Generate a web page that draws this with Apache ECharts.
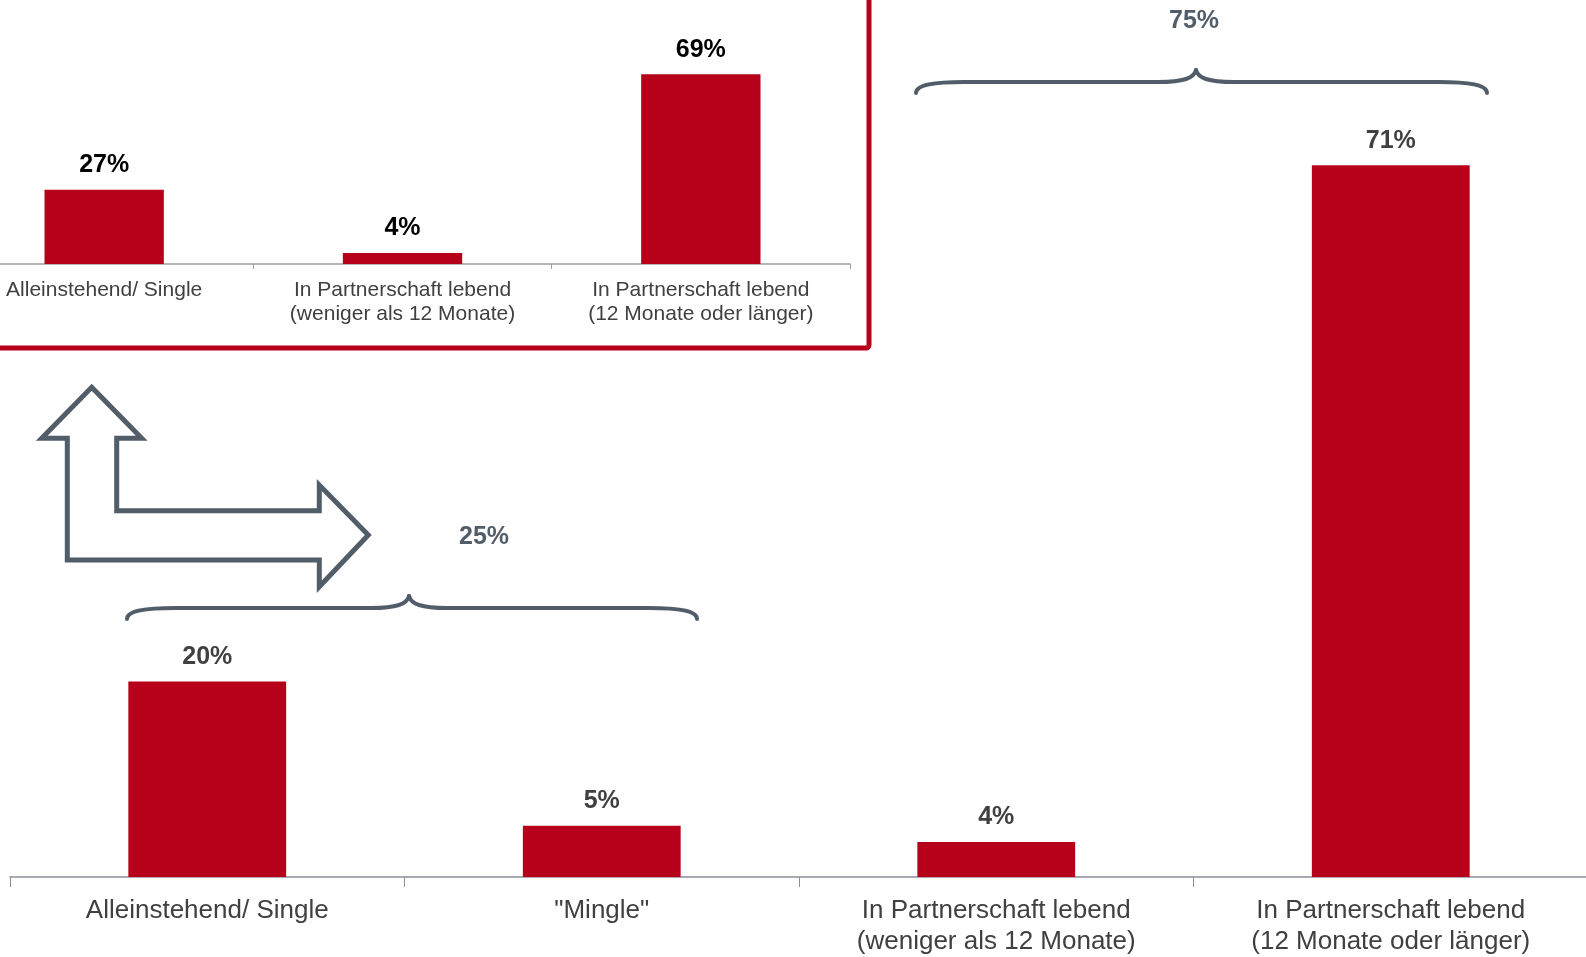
<!DOCTYPE html>
<html>
<head>
<meta charset="utf-8">
<script src="https://cdn.jsdelivr.net/npm/echarts@6/dist/echarts.min.js"></script>
<style>
  html, body { margin: 0; padding: 0; background: #ffffff; }
  #chart { width: 1586px; height: 957px; }
</style>
</head>
<body>
<div id="chart"></div>
<script>
// ---- data ----
const mainCategories = ['Alleinstehend/ Single', '"Mingle"', 'In Partnerschaft lebend\n(weniger als 12 Monate)', 'In Partnerschaft lebend\n(12 Monate oder länger)'];
const mainValues = [19.5, 5.1, 3.5, 71.0];
const insetCategories = ['Alleinstehend/ Single', 'In Partnerschaft lebend\n(weniger als 12 Monate)', 'In Partnerschaft lebend\n(12 Monate oder länger)'];
const insetValues = [27, 4, 69];
const braceLabels = ['25%', '75%'];

const RED = '#B70019';
const SLATE = '#525D6A';
const FONT = '"Liberation Sans", Arial, sans-serif';

function brace(x0, x1, yEnd, yLine, tipX, tipY) {
  const st = { fill: 'none', stroke: SLATE, lineWidth: 4, lineCap: 'round' };
  const seg = (shape, type) => ({ type: type, z: 10, shape: shape, style: st });
  return {
    type: 'group', children: [
      seg({ x1: x0, y1: yEnd, cpx1: x0, cpy1: yLine + 3, cpx2: x0 + 18, cpy2: yLine, x2: x0 + 48, y2: yLine }, 'bezierCurve'),
      seg({ x1: x0 + 48, y1: yLine, x2: tipX - 38, y2: yLine }, 'line'),
      seg({ x1: tipX - 38, y1: yLine, cpx1: tipX - 12, cpy1: yLine, cpx2: tipX - 2, cpy2: yLine - 4, x2: tipX, y2: tipY }, 'bezierCurve'),
      seg({ x1: tipX, y1: tipY, cpx1: tipX + 2, cpy1: yLine - 4, cpx2: tipX + 12, cpy2: yLine, x2: tipX + 38, y2: yLine }, 'bezierCurve'),
      seg({ x1: tipX + 38, y1: yLine, x2: x1 - 48, y2: yLine }, 'line'),
      seg({ x1: x1 - 48, y1: yLine, cpx1: x1 - 18, cpy1: yLine, cpx2: x1, cpy2: yLine + 3, x2: x1, y2: yEnd }, 'bezierCurve')
    ]
  };
}

const chart = echarts.init(document.getElementById('chart'));
chart.setOption({
  animation: false,
  backgroundColor: '#ffffff',
  textStyle: { fontFamily: FONT },
  grid: [
    { left: 10, width: 1578, top: 75, height: 802, containLabel: false, outerBoundsMode: 'none' },
    { left: -45, width: 895, top: 44, height: 220, containLabel: false, outerBoundsMode: 'none' }
  ],
  xAxis: [
    {
      gridIndex: 0, type: 'category', data: mainCategories, boundaryGap: true,
      axisLine: { lineStyle: { color: '#8a8f96', width: 1.5 } },
      axisTick: { show: true, length: 10, lineStyle: { color: '#8a8f96', width: 1 } },
      axisLabel: { interval: 0, margin: 18, fontSize: 26, lineHeight: 31, color: '#404040', fontFamily: FONT }
    },
    {
      gridIndex: 1, type: 'category', data: insetCategories, boundaryGap: true,
      axisLine: { lineStyle: { color: '#9a9ea4', width: 1.5 } },
      axisTick: { show: true, length: 5, lineStyle: { color: '#9a9ea4', width: 1 } },
      axisLabel: { interval: 0, margin: 14, fontSize: 21, lineHeight: 24, color: '#404040', fontFamily: FONT }
    }
  ],
  yAxis: [
    { gridIndex: 0, type: 'value', min: 0, max: 80, show: false, splitLine: { show: false } },
    { gridIndex: 1, type: 'value', min: 0, max: 80, show: false, splitLine: { show: false } }
  ],
  series: [
    {
      type: 'bar', xAxisIndex: 0, yAxisIndex: 0, data: mainValues, barWidth: '40%',
      itemStyle: { color: RED },
      label: {
        show: true, position: 'top', distance: 12, fontSize: 25, fontWeight: 'bold',
        color: '#404040', fontFamily: FONT,
        formatter: p => Math.round(p.value) + '%'
      }
    },
    {
      type: 'bar', xAxisIndex: 1, yAxisIndex: 1, data: insetValues, barWidth: '40%',
      itemStyle: { color: RED },
      label: {
        show: true, position: 'top', distance: 12, fontSize: 25, fontWeight: 'bold',
        color: '#000000', fontFamily: FONT,
        formatter: p => Math.round(p.value) + '%'
      }
    }
  ],
  graphic: [
    {
      type: 'rect', z: 10,
      shape: { x: -20, y: -20, width: 889, height: 368, r: 3 },
      style: { fill: 'none', stroke: RED, lineWidth: 5 }
    },
    {
      type: 'polygon', z: 10,
      shape: {
        points: [
          [91.7, 387.3], [141.7, 438.3], [116.7, 438.3], [116.7, 510.7],
          [319.3, 510.7], [319.3, 485], [368.3, 535], [319.3, 586.7],
          [319.3, 560], [67.3, 560], [67.3, 438.3], [41.7, 438.3]
        ]
      },
      style: { fill: 'none', stroke: SLATE, lineWidth: 5, lineJoin: 'miter' }
    },
    brace(127, 697, 619, 608, 409, 596),
    brace(916, 1487, 93, 82, 1196, 70),
    {
      type: 'text', z: 10, x: 484, y: 537,
      style: { text: braceLabels[0], fontSize: 25, fontWeight: 'bold', fill: SLATE, fontFamily: FONT, align: 'center', verticalAlign: 'middle' }
    },
    {
      type: 'text', z: 10, x: 1194, y: 21,
      style: { text: braceLabels[1], fontSize: 25, fontWeight: 'bold', fill: SLATE, fontFamily: FONT, align: 'center', verticalAlign: 'middle' }
    }
  ]
});
</script>
</body>
</html>
